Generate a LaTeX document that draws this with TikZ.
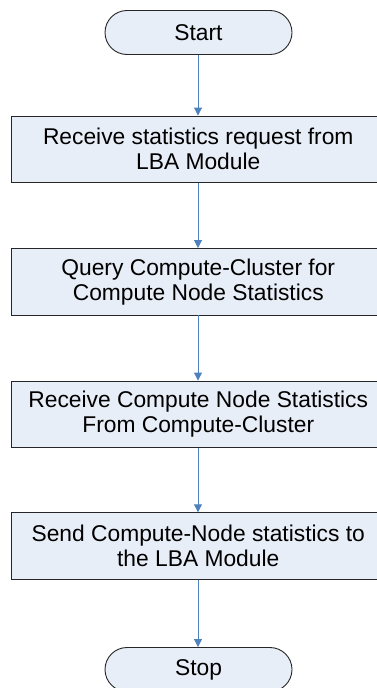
\documentclass[tikz,border=0pt]{standalone}
\usepackage{fontspec}
\setmainfont{Liberation Sans}
\usetikzlibrary{arrows.meta,shapes.misc}
\definecolor{boxfill}{HTML}{E8EEF7}
\definecolor{arrowblue}{HTML}{4F81BD}
\tikzset{
  x=1pt, y=1pt,
  stepbox/.style={draw=black!85, line width=0.9pt, fill=boxfill, rectangle,
    minimum width=373.5pt, minimum height=66.5pt, inner sep=0pt,
    align=center, font=\fontsize{22.8}{25}\selectfont},
  term/.style={draw=black!85, line width=0.9pt, fill=boxfill, rounded rectangle,
    minimum width=187pt, minimum height=44pt, inner sep=0pt,
    font=\fontsize{22.8}{25}\selectfont},
  flow/.style={draw=arrowblue, line width=0.9pt, -{Triangle[length=8pt,width=8pt]}},
}
\begin{document}
\begin{tikzpicture}
\useasboundingbox (0,0) rectangle (376,-688);
\node[term] (start) at (198.5,-32.5) {Start};
\node[stepbox] (s1) at (198.25,-149.25) {Receive statistics request from\\LBA Module};
\node[stepbox] (s2) at (198.25,-281.75) {Query Compute-Cluster for\\Compute Node Statistics};
\node[stepbox] (s3) at (198.25,-414.25) {Receive Compute Node Statistics\\From Compute-Cluster};
\node[stepbox] (s4) at (198.25,-546) {Send Compute-Node statistics to\\the LBA Module};
\node[term] (stop) at (198.5,-669.5) {Stop};
\draw[flow] (start.south -| 198,0) -- (s1.north -| 198,0);
\draw[flow] (s1.south -| 198,0) -- (s2.north -| 198,0);
\draw[flow] (s2.south -| 198,0) -- (s3.north -| 198,0);
\draw[flow] (s3.south -| 198,0) -- (s4.north -| 198,0);
\draw[flow] (s4.south -| 198,0) -- (stop.north -| 198,0);
\end{tikzpicture}
\end{document}
